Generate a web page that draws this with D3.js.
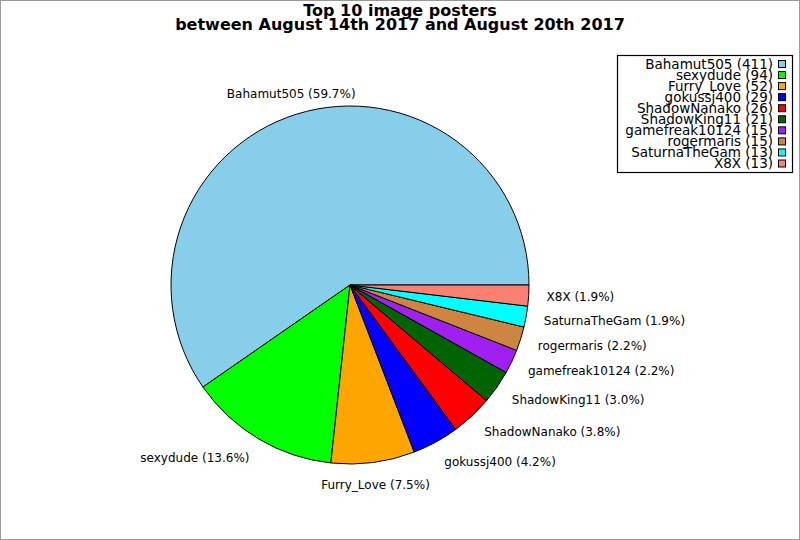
<!DOCTYPE html>
<html>
<head>
<meta charset="utf-8">
<script src="https://cdn.jsdelivr.net/npm/d3@7"></script>
<style>
  body { margin: 0; background: #fff; }
  svg { display: block; font-family: "DejaVu Sans", sans-serif; }
</style>
</head>
<body>
<div class="vis-pie"></div>
<script>
const NAMES = ["Bahamut505", "sexydude", "Furry_Love", "gokussj400", "ShadowNanako",
  "ShadowKing11", "gamefreak10124", "rogermaris", "SaturnaTheGam", "X8X"];
const COUNTS = [411, 94, 52, 29, 26, 21, 15, 15, 13, 13];
const COLORS = ["#87ceeb", "#00ff00", "#ffa500", "#0000ff", "#ff0000",
  "#006400", "#a020f0", "#cd853f", "#00ffff", "#fa8072"];
const TITLE = ["Top 10 image posters", "between August 14th 2017 and August 20th 2017"];

const WIDTH = 800, HEIGHT = 540;
const CX = 350, CY = 285, R = 179;

const data = NAMES.map((name, i) => ({ name, count: COUNTS[i], color: COLORS[i] }));
const total = d3.sum(COUNTS);

const svg = d3.select(".vis-pie").append("svg")
  .attr("width", WIDTH)
  .attr("height", HEIGHT);

// frame
svg.append("rect")
  .attr("x", 0.5).attr("y", 0.5)
  .attr("width", WIDTH - 1).attr("height", HEIGHT - 1)
  .attr("fill", "#fff")
  .attr("stroke", "#999");

// title
svg.append("text")
  .attr("x", 400)
  .attr("text-anchor", "middle")
  .style("font-weight", "bold")
  .style("font-size", "16px")
  .selectAll("tspan").data(TITLE).enter().append("tspan")
  .attr("x", 400)
  .attr("y", (d, i) => 16 + i * 14)
  .text(d => d);

// counterclockwise from 3 o'clock
const pie = d3.pie()
  .value(d => d.count)
  .sort(null)
  .startAngle(Math.PI / 2)
  .endAngle(Math.PI / 2 - 2 * Math.PI);

const arc = d3.arc().innerRadius(0).outerRadius(R);
const labelArc = d3.arc().innerRadius(R * 1.1).outerRadius(R * 1.1);

const g = svg.append("g").attr("transform", `translate(${CX},${CY})`);

g.selectAll("path").data(pie(data)).enter().append("path")
  .attr("d", arc)
  .attr("fill", d => d.data.color)
  .attr("stroke", "#000")
  .attr("stroke-width", 1)
  .attr("stroke-linejoin", "round");

// slice labels
g.selectAll("text.slice-label").data(pie(data)).enter().append("text")
  .attr("class", "slice-label")
  .each(function (d) {
    const [x, y] = labelArc.centroid(d);
    const c = x / (R * 1.1);
    d3.select(this)
      .attr("x", x)
      .attr("y", y + (y / (R * 1.1)) * 4)
      .attr("dy", "0.36em")
      .attr("text-anchor", Math.abs(c) < 0.4 ? "middle" : (c > 0 ? "start" : "end"));
  })
  .style("font-size", "12px")
  .attr("fill", "#000")
  .text(d => `${d.data.name} (${(d.data.count / total * 100).toFixed(1)}%)`);

// legend
const legend = svg.append("g").attr("class", "legend");
legend.append("rect")
  .attr("x", 617.5).attr("y", 55.5)
  .attr("width", 175).attr("height", 117)
  .attr("fill", "#fff")
  .attr("stroke", "#000")
  .attr("stroke-width", 1.2);

const rowY = d3.scalePoint().domain(NAMES).range([64, 163.5]);

const rows = legend.selectAll("g.row").data(data).enter().append("g")
  .attr("class", "row")
  .attr("transform", d => `translate(0,${rowY(d.name)})`);

rows.append("rect")
  .attr("x", 778.5).attr("y", -3.5)
  .attr("width", 7).attr("height", 7)
  .attr("fill", d => d.color)
  .attr("stroke", "#000");

rows.append("text")
  .attr("x", 773)
  .attr("dy", "0.36em")
  .attr("text-anchor", "end")
  .style("font-size", "13.5px")
  .text(d => `${d.name} (${d.count})`);
</script>
</body>
</html>
